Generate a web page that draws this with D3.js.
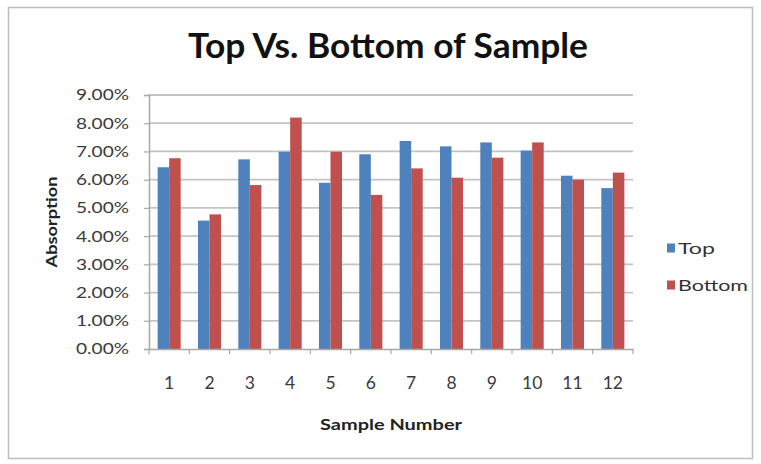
<!DOCTYPE html>
<html><head><meta charset="utf-8">
<script src="https://cdn.jsdelivr.net/npm/d3@7"></script>
<style>html,body{margin:0;padding:0;background:#fff;}</style>
</head><body>
<svg id="chart" width="761" height="464"></svg>
<script>
const categories = ["1","2","3","4","5","6","7","8","9","10","11","12"];
const topValues = [6.44, 4.55, 6.72, 6.99, 5.89, 6.90, 7.37, 7.18, 7.32, 7.03, 6.14, 5.70];
const bottomValues = [6.76, 4.77, 5.81, 8.20, 6.99, 5.46, 6.40, 6.07, 6.78, 7.32, 6.00, 6.25];
const seriesNames = ["Top", "Bottom"];
const seriesColors = ["#4F81BD", "#C0504D"];
const yTicks = [0,1,2,3,4,5,6,7,8,9];

const svg = d3.select("#chart");
const font = "Lato, 'Open Sans', sans-serif";

svg.append("rect").attr("x",8.5).attr("y",7.5).attr("width",744).attr("height",451)
  .attr("fill","#fff").attr("stroke","#bdbdbd").attr("stroke-width",1.5);

const m = {left:149, right:633, top:95, bottom:349};
const x = d3.scaleBand().domain(categories).range([m.left, m.right]).paddingInner(0).paddingOuter(0);
const y = d3.scaleLinear().domain([0,9]).range([m.bottom, m.top]);
const barW = x.bandwidth()/3.5;

// gridlines
svg.append("g").selectAll("line").data(yTicks.filter(d=>d>0)).join("line")
  .attr("x1", m.left).attr("x2", m.right)
  .attr("y1", d=>y(d)).attr("y2", d=>y(d))
  .attr("stroke","#c4c4c4").attr("stroke-width",1.8);

// y axis
const yAxis = d3.axisLeft(y).tickValues(yTicks).tickSize(5).tickFormat(d=>d.toFixed(2)+"%");
const gy = svg.append("g").attr("transform",`translate(${m.left},0)`).call(yAxis);
gy.select(".domain").attr("stroke","#a8a8a8").attr("stroke-width",1.5);
gy.selectAll(".tick line").attr("stroke","#a8a8a8").attr("stroke-width",1.2);
gy.selectAll(".tick text").attr("font-family",font).attr("font-size",15.5).attr("fill","#3a3a3a")
  .attr("x",-20).attr("textLength",53).attr("lengthAdjust","spacingAndGlyphs");

// bars
const data = categories.map((c,i)=>({c, vals:[topValues[i], bottomValues[i]]}));
const groups = svg.append("g").selectAll("g").data(data).join("g");
groups.selectAll("rect").data(d=>d.vals.map((v,j)=>({c:d.c,v,j}))).join("rect")
  .attr("x", d=> x(d.c) + x.bandwidth()/2 - barW + d.j*barW)
  .attr("y", d=> y(d.v))
  .attr("width", barW)
  .attr("height", d=> y(0)-y(d.v))
  .attr("fill", d=> seriesColors[d.j]);

// x axis
const xAxis = d3.axisBottom(x).tickSize(0).tickPadding(0);
const gx = svg.append("g").attr("transform",`translate(0,${m.bottom})`).call(xAxis);
gx.select(".domain").attr("stroke","#a8a8a8").attr("stroke-width",1.5);
gx.selectAll(".tick text").attr("font-family",font).attr("font-size",17.5).attr("fill","#3a3a3a")
  .attr("dy",null).attr("y",40);
svg.append("g").selectAll("line").data(categories.concat(["end"])).join("line")
  .attr("x1",(d,i)=> m.left + i*x.bandwidth()).attr("x2",(d,i)=> m.left + i*x.bandwidth())
  .attr("y1", m.bottom).attr("y2", m.bottom+5)
  .attr("stroke","#a8a8a8").attr("stroke-width",1.2);

// title
svg.append("text").attr("x",388).attr("y",58).attr("text-anchor","middle")
  .attr("font-family",font).attr("font-weight","bold").attr("font-size",34).attr("fill","#111")
  .attr("textLength",400).attr("lengthAdjust","spacingAndGlyphs")
  .text("Top Vs. Bottom of Sample");

// axis titles
svg.append("text").attr("x",391).attr("y",430).attr("text-anchor","middle")
  .attr("font-family",font).attr("font-weight","bold").attr("font-size",15.5).attr("fill","#222")
  .attr("textLength",142).attr("lengthAdjust","spacingAndGlyphs")
  .text("Sample Number");
svg.append("text").attr("transform","translate(57,222) rotate(-90)").attr("text-anchor","middle")
  .attr("font-family",font).attr("font-weight","bold").attr("font-size",16).attr("fill","#222")
  .attr("textLength",91).attr("lengthAdjust","spacingAndGlyphs")
  .text("Absorption");

// legend
const legendLen = [37, 70];
const lg = svg.append("g").selectAll("g").data(seriesNames).join("g")
  .attr("transform",(d,i)=>`translate(667,${248+i*37})`);
lg.append("rect").attr("x",0).attr("y",-4.5).attr("width",8).attr("height",9).attr("fill",(d,i)=>seriesColors[i]);
lg.append("text").attr("x",11).attr("y",5.5).attr("font-family",font).attr("font-size",15.5).attr("fill","#333")
  .attr("textLength",(d,i)=>legendLen[i]).attr("lengthAdjust","spacingAndGlyphs").text(d=>d);
</script>
</body></html>
